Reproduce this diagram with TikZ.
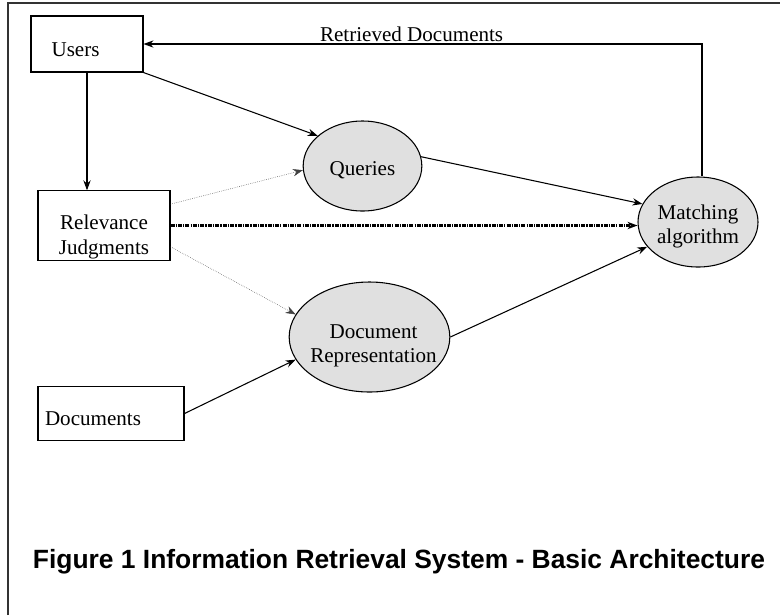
\documentclass[tikz,border=0pt]{standalone}
\usepackage{fontspec}
\setmainfont{Liberation Serif}
\setsansfont{Liberation Sans}
\usetikzlibrary{shapes.geometric,arrows.meta}

\begin{document}
\begin{tikzpicture}[
		x=0.75pt,y=-0.75pt,
		every node/.style={font=\fontsize{15.8}{18.2}\selectfont},
		every label/.style={align=center,inner sep=0pt},
		box/.style={
			draw,
			rectangle,
			thick,
			inner sep=0pt
		},
		proc/.style={
			draw,
			ellipse,
			fill=black!12,
			thick,
			inner sep=0pt
		},
		flow/.style={->,thick},
		hint/.style={->,densely dotted,black!75},
		>={Stealth[length=7.5pt,width=5.5pt,inset=2.5pt]}
		]
		\useasboundingbox (0,0) rectangle (780,615);
		% frame
		\draw[line width=1.5pt,black!80] (8,615) -- (8,3) -- (780,3);
		% boxes
		\node[box,minimum width=84pt,minimum height=42pt,
			label={[xshift=-8.6pt,yshift=-4.5pt]center:Users}] (users) at (87,44) {};
		\node[box,minimum width=99pt,minimum height=52pt,
			label={[yshift=-8.5pt]center:Relevance\\Judgments}] (rel) at (104,225.5) {};
		\node[box,minimum width=109.5pt,minimum height=41pt,
			label={[xshift=-13.5pt,yshift=-4pt]center:Documents}] (docs) at (111,413.5) {};
		% ellipses
		\node[proc,minimum width=89pt,minimum height=67.5pt,
			label={[yshift=-3pt]center:Queries}] (queries) at (362.5,166) {};
		\node[proc,minimum width=90pt,minimum height=67.5pt,
			label={[yshift=-3.5pt]center:Matching\\algorithm}] (match) at (698,222) {};
		\node[proc,minimum width=120.5pt,minimum height=82.5pt,
			label={[xshift=3pt,yshift=-6.5pt]center:Document\\Representation}] (docrep) at (369.5,337) {};
		% title
		\node[font=\sffamily\bfseries\fontsize{19.8}{22}\selectfont] (title) at (399,562) {Figure 1 Information Retrieval System - Basic Architecture};
		% users side
		\draw[flow] (users.south east) -- (queries.146);
		\draw[flow] (users.south) -- (users.south |- rel.north);
		\draw[flow] ([xshift=3pt]match.north) |- node[above,pos=0.76,inner sep=1pt] {Retrieved Documents} (users.east);
		% judgments
		\draw[hint] ([yshift=16pt]rel.east) -- (queries.184);
		\draw[->,line width=1.7pt,dash pattern=on 3pt off 0.8pt on 1pt off 0.8pt] (rel.east) -- (rel.east -| match.west);
		\draw[hint] ([yshift=-16pt]rel.east) -- (docrep.163);
		% to matching
		\draw[flow] (queries.9) -- (match.162);
		\draw[flow] (docs.east) -- (docrep.197);
		\draw[flow] (docrep.east) -- (match.206);
	\end{tikzpicture}
\end{document}
